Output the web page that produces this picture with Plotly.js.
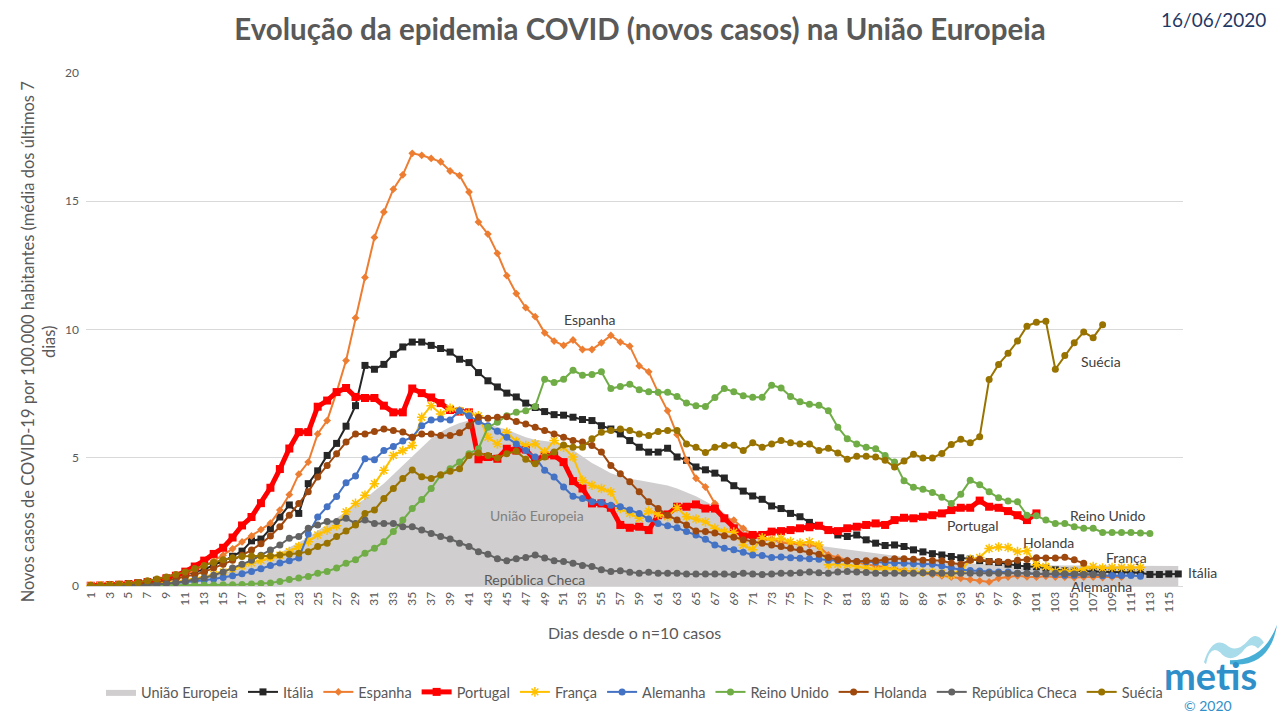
<!DOCTYPE html>
<html>
<head>
<meta charset="utf-8">
<script src="https://cdn.plot.ly/plotly-3.0.1.min.js"></script>
<style>html,body{margin:0;padding:0;background:#fff;}#chart{width:1280px;height:720px;}</style>
</head>
<body>
<div id="chart"></div>
<script>
// Days since n=10 cases (category axis 1..116)
const xTickVals = [];
for (let d = 1; d <= 115; d += 2) xTickVals.push(d);

const uniaoEuropeia = [0.01,0.02,0.03,0.04,0.06,0.08,0.1,0.13,0.16,0.2,
0.25,0.3,0.36,0.43,0.5,0.6,0.72,0.85,1.0,1.15,
1.3,1.5,1.7,1.9,2.15,2.4,2.65,2.9,3.15,3.4,
3.7,4.0,4.35,4.7,5.05,5.4,5.75,6.0,6.2,6.35,
6.45,6.4,6.3,6.2,6.1,5.95,5.8,5.7,5.65,5.6,
5.45,5.3,5.05,4.8,4.6,4.4,4.28,4.18,4.12,4.06,
4.0,3.92,3.8,3.65,3.5,3.3,3.1,2.85,2.55,2.3,
2.1,1.95,1.85,1.78,1.72,1.67,1.62,1.57,1.52,1.47,
1.42,1.37,1.32,1.27,1.22,1.17,1.12,1.07,1.02,0.98,
0.95,0.92,0.9,0.88,0.86,0.84,0.83,0.82,0.82,0.81,
0.8,0.8,0.8,0.8,0.8,0.8,0.8,0.8,0.8,0.79,
0.79,0.79,0.79,0.78,0.78,0.78];

const italia = [0.01,0.02,0.04,0.06,0.09,0.12,0.16,0.22,0.3,0.38,
0.45,0.56,0.63,0.83,0.96,1.16,1.36,1.76,1.83,2.23,
2.69,3.16,2.83,3.99,4.49,5.09,5.56,6.23,7.03,8.6,
8.45,8.64,9.03,9.32,9.51,9.51,9.38,9.26,9.12,8.84,
8.71,8.32,8.0,7.76,7.52,7.37,7.13,6.96,6.8,6.68,
6.66,6.58,6.49,6.45,6.25,6.12,5.93,5.67,5.41,5.22,
5.22,5.37,5.03,4.9,4.64,4.53,4.4,4.21,3.91,3.7,
3.51,3.38,3.12,3.02,2.83,2.7,2.48,2.35,2.18,1.99,
1.93,1.99,1.8,1.67,1.58,1.6,1.54,1.41,1.33,1.26,
1.21,1.15,1.1,1.05,0.99,0.95,0.92,0.85,0.8,0.76,
0.75,0.7,0.63,0.59,0.58,0.57,0.56,0.54,0.54,0.53,
0.53,0.52,0.45,0.45,0.47,0.47];

const espanha = [0.01,0.02,0.03,0.05,0.07,0.1,0.13,0.18,0.25,0.33,
0.45,0.6,0.78,0.98,1.2,1.45,1.72,1.95,2.2,2.45,
2.96,3.56,4.36,4.83,5.93,6.45,7.56,8.79,10.45,12.03,
13.59,14.58,15.47,16.03,16.87,16.79,16.67,16.54,16.18,16.0,
15.36,14.19,13.72,12.97,12.1,11.4,10.85,10.5,9.87,9.55,
9.38,9.59,9.22,9.22,9.48,9.77,9.51,9.35,8.58,8.35,
7.55,6.83,5.9,4.9,4.2,3.86,3.22,2.64,2.57,2.25,
1.99,1.77,1.83,1.7,1.66,1.63,1.6,1.54,1.21,1.11,
1.0,0.92,0.85,0.78,0.72,0.66,0.6,0.55,0.5,0.45,
0.4,0.35,0.3,0.25,0.2,0.16,0.3,0.35,0.4,0.36,
0.35,0.38,0.35,0.35,0.33,0.35,0.35,0.33,0.35,0.35];

const portugal = [0.01,0.02,0.03,0.05,0.07,0.1,0.15,0.2,0.3,0.4,
0.56,0.76,0.99,1.25,1.49,1.89,2.36,2.69,3.23,3.83,
4.56,5.36,6.0,6.0,6.99,7.23,7.56,7.72,7.37,7.33,
7.33,7.03,6.77,6.77,7.7,7.52,7.35,7.13,6.86,6.8,
6.77,4.94,5.03,4.96,5.35,5.28,5.32,4.9,5.09,5.09,
4.83,4.09,3.8,3.22,3.22,3.05,2.38,2.27,2.31,2.18,
2.76,2.79,3.09,3.09,3.18,3.02,3.02,2.64,2.25,1.93,
1.99,1.99,2.12,2.14,2.18,2.25,2.29,2.35,2.18,2.14,
2.25,2.31,2.38,2.44,2.38,2.57,2.66,2.64,2.7,2.76,
2.83,2.96,3.05,3.05,3.33,3.09,3.05,2.92,2.76,2.57,
2.83];

const franca = [0,0.01,0.02,0.03,0.04,0.05,0.07,0.1,0.13,0.17,
0.22,0.28,0.35,0.45,0.55,0.65,0.78,0.9,1.0,1.1,
1.2,1.34,1.54,1.73,1.99,2.18,2.35,2.89,3.22,3.54,
3.99,4.51,5.09,5.28,5.48,6.58,7.03,6.71,6.93,6.83,
6.74,6.64,5.8,5.54,5.99,5.63,5.48,5.54,5.22,5.67,
5.41,5.03,4.12,3.93,3.8,3.67,3.02,2.83,2.64,2.92,
2.79,2.7,3.05,2.7,2.61,2.5,2.25,2.12,2.1,1.6,
1.41,1.88,1.8,1.86,1.73,1.67,1.73,1.6,0.83,0.85,
0.83,0.76,0.7,0.63,0.7,0.63,0.57,0.57,0.54,0.54,
0.5,0.44,0.57,1.04,1.11,1.46,1.52,1.5,1.34,1.37,
0.83,0.76,0.57,0.57,0.59,0.67,0.76,0.7,0.72,0.72,
0.72,0.72];

const alemanha = [0,0.01,0.01,0.02,0.03,0.04,0.05,0.07,0.09,0.12,
0.15,0.18,0.22,0.27,0.33,0.4,0.48,0.57,0.67,0.8,
0.9,0.98,1.09,2.03,2.69,3.09,3.49,4.03,4.29,4.96,
4.92,5.28,5.44,5.65,5.8,6.25,6.47,6.51,6.47,6.83,
6.64,6.41,6.25,6.03,5.8,5.54,5.28,5.03,4.51,4.25,
3.86,3.5,3.41,3.28,3.26,3.15,3.09,2.96,2.83,2.61,
2.44,2.35,2.27,2.12,1.99,1.82,1.6,1.47,1.41,1.32,
1.21,1.19,1.11,1.13,1.1,1.08,1.06,1.04,1.0,0.98,
0.97,0.96,0.95,0.93,0.92,0.9,0.89,0.87,0.86,0.85,
0.78,0.7,0.63,0.6,0.58,0.55,0.55,0.55,0.5,0.5,
0.47,0.47,0.45,0.42,0.42,0.44,0.46,0.4,0.41,0.41,
0.41,0.38];

const reinoUnido = [0,0,0.01,0.01,0.01,0.02,0.02,0.02,0.03,0.03,
0.03,0.04,0.04,0.04,0.05,0.05,0.06,0.08,0.1,0.12,
0.18,0.25,0.31,0.37,0.5,0.57,0.7,0.89,1.02,1.28,
1.47,1.73,2.12,2.57,3.02,3.37,3.8,4.32,4.57,4.83,
5.16,5.35,6.19,6.38,6.64,6.77,6.83,7.0,8.06,7.93,
8.06,8.41,8.22,8.25,8.35,7.7,7.78,7.87,7.65,7.57,
7.55,7.55,7.39,7.13,7.03,7.0,7.35,7.7,7.57,7.42,
7.36,7.36,7.83,7.72,7.39,7.18,7.09,7.05,6.83,6.19,
5.74,5.54,5.41,5.35,5.09,4.83,4.1,3.85,3.77,3.65,
3.46,3.22,3.58,4.12,3.95,3.67,3.44,3.31,3.28,2.76,
2.74,2.57,2.44,2.44,2.31,2.25,2.25,2.09,2.09,2.09,
2.09,2.07,2.05];

const holanda = [0,0.01,0.02,0.03,0.05,0.07,0.1,0.15,0.2,0.28,
0.35,0.45,0.55,0.7,0.85,1.0,1.2,1.4,1.65,1.95,
2.31,2.76,3.22,3.67,4.25,4.7,5.16,5.61,5.93,5.93,
6.02,6.12,6.06,6.0,5.8,5.93,5.93,5.87,5.87,5.97,
6.25,6.58,6.54,6.58,6.6,6.41,6.32,6.19,6.06,5.93,
5.8,5.67,5.61,5.48,5.22,4.7,4.38,4.06,3.67,3.28,
3.02,2.76,2.57,2.38,2.14,2.12,2.07,1.96,1.9,1.8,
1.73,1.67,1.6,1.54,1.47,1.41,1.32,1.24,1.11,1.02,
0.98,0.96,0.98,0.98,1.02,1.06,1.06,1.04,1.0,0.99,
0.98,0.9,0.85,1.0,1.04,0.96,0.96,0.93,1.0,1.03,
1.1,1.09,1.09,1.12,1.02,0.89];

const republicaCheca = [0.01,0.01,0.01,0.01,0.02,0.03,0.04,0.06,0.09,0.13,
0.18,0.25,0.32,0.42,0.55,0.7,0.85,1.0,1.2,1.4,
1.6,1.86,1.93,2.25,2.38,2.51,2.51,2.64,2.44,2.57,
2.44,2.44,2.44,2.31,2.31,2.18,2.05,1.93,1.83,1.67,
1.54,1.34,1.24,1.06,0.98,1.06,1.11,1.21,1.09,0.98,
0.96,0.89,0.8,0.76,0.63,0.57,0.59,0.54,0.5,0.54,
0.5,0.5,0.5,0.47,0.47,0.47,0.47,0.47,0.45,0.5,
0.47,0.45,0.47,0.5,0.5,0.52,0.55,0.52,0.5,0.55,
0.57,0.55,0.53,0.5,0.5,0.5,0.5,0.5,0.52,0.5,
0.5,0.5,0.5,0.5,0.5,0.5,0.5,0.5,0.5,0.5,
0.48,0.48,0.5,0.48,0.47,0.45,0.45,0.45];

const suecia = [0.02,0.03,0.05,0.07,0.1,0.14,0.2,0.27,0.35,0.45,
0.55,0.68,0.8,0.92,1.02,1.1,1.15,1.17,1.17,1.17,
1.21,1.24,1.28,1.34,1.54,1.67,1.93,2.14,2.38,2.83,
2.96,3.41,3.8,4.19,4.52,4.26,4.19,4.34,4.47,4.57,
5.09,5.19,5.09,4.99,5.16,5.25,4.94,4.77,5.03,5.22,
5.5,5.41,5.41,5.74,5.99,6.06,6.12,6.06,5.93,5.87,
6.02,6.06,6.06,5.54,5.41,5.2,5.41,5.48,5.49,5.28,
5.58,5.41,5.54,5.67,5.58,5.54,5.54,5.28,5.37,5.19,
4.94,5.06,5.06,5.03,4.9,4.64,4.87,5.14,4.99,4.99,
5.17,5.52,5.72,5.58,5.82,8.05,8.64,9.07,9.55,10.13,
10.28,10.32,8.45,8.99,9.48,9.9,9.68,10.19];

const days = arr => arr.map((_, i) => i + 1);
const FONT = 'Lato, "Open Sans", sans-serif';

function lineTrace(name, vals, color, symbol, msize, lw, extra) {
  const t = {
    type: 'scatter', mode: 'lines+markers', name: name,
    x: days(vals), y: vals,
    line: {color: color, width: lw},
    marker: {color: color, symbol: symbol, size: msize}
  };
  if (extra) Object.assign(t.marker, extra);
  return t;
}

const traces = [
  {type: 'scatter', mode: 'lines', name: 'União Europeia', x: days(uniaoEuropeia), y: uniaoEuropeia,
   fill: 'tozeroy', fillcolor: '#D0CECE', line: {color: 'rgba(0,0,0,0)', width: 0}},
  lineTrace('Itália', italia, '#262626', 'square', 7, 2),
  lineTrace('Espanha', espanha, '#ED7D31', 'diamond', 6, 2),
  lineTrace('Portugal', portugal, '#FF0000', 'square', 8, 5),
  lineTrace('França', franca, '#FFC000', 'asterisk-open', 8, 2, {line: {color: '#FFC000', width: 1.5}}),
  lineTrace('Alemanha', alemanha, '#4472C4', 'circle', 7, 2),
  lineTrace('Reino Unido', reinoUnido, '#70AD47', 'circle', 7, 2),
  lineTrace('Holanda', holanda, '#9E480E', 'circle', 7, 2),
  lineTrace('República Checa', republicaCheca, '#636363', 'circle', 7, 2),
  lineTrace('Suécia', suecia, '#997300', 'circle', 7, 2)
];

// pixel -> paper helpers for decorations
const PL = 86, PR = 1183, PT = 73, PB = 591;
const px = x => (x - PL) / (PR - PL);
const py = y => (PB - y) / (PB - PT);
function P(x, y) { return px(x).toFixed(4) + ',' + py(y).toFixed(4); }

function lbl(text, x, y, color, size) {
  return {text: text, xref: 'paper', yref: 'paper', x: px(x), y: py(y), showarrow: false,
          xanchor: 'center', yanchor: 'middle', font: {family: FONT, size: size || 14, color: color || '#404040'}};
}

const annotations = [
  lbl('Espanha', 589, 322),
  lbl('Suécia', 1101, 364),
  lbl('Reino Unido', 1108, 520),
  lbl('Portugal', 972, 530),
  lbl('Holanda', 1048, 547),
  lbl('França', 1126, 562),
  lbl('Itália', 1202, 577),
  lbl('Alemanha', 1101, 592),
  lbl('União Europeia', 537, 520, '#808080'),
  lbl('República Checa', 534, 584, '#595959'),
  lbl('16/06/2020', 1213, 19, '#1F3864', 19),
  {text: 'Novos casos de COVID-19 por 100.000 habitantes (média dos últimos 7<br>dias)', textangle: -90,
   xref: 'paper', yref: 'paper', x: px(38), y: py(345), showarrow: false, xanchor: 'center', yanchor: 'middle',
   align: 'center', font: {family: FONT, size: 16.5, color: '#595959'}},
  lbl('Dias desde o n=10 casos', 634, 638, '#595959', 16),
  {text: '<b>metis</b>', xref: 'paper', yref: 'paper', x: px(1211), y: py(681), showarrow: false,
   xanchor: 'center', yanchor: 'middle', font: {family: FONT, size: 38, color: '#2F8FC9'}},
  lbl('© 2020', 1208, 712, '#2F8FC9', 14)
];

const shapes = [
  {type: 'path', xref: 'paper', yref: 'paper', layer: 'above',
   path: 'M' + P(1204, 668) + ' Q' + P(1212, 642) + ' ' + P(1226, 650) + ' Q' + P(1236, 660) + ' ' + P(1248, 646) +
         ' Q' + P(1256, 636) + ' ' + P(1264, 648) + ' L' + P(1258, 654) + ' Q' + P(1250, 646) + ' ' + P(1242, 658) +
         ' Q' + P(1230, 670) + ' ' + P(1220, 658) + ' Q' + P(1210, 650) + ' ' + P(1206, 670) + ' Z',
   fillcolor: '#A8DCEA', line: {width: 0}},
  {type: 'path', xref: 'paper', yref: 'paper', layer: 'above',
   path: 'M' + P(1230, 666) + ' Q' + P(1264, 666) + ' ' + P(1277, 630) + ' Q' + P(1270, 674) + ' ' + P(1230, 670) + ' Z',
   fillcolor: '#47AFD6', line: {width: 0}}
];

const layout = {
  width: 1280, height: 720,
  paper_bgcolor: '#ffffff', plot_bgcolor: '#ffffff',
  margin: {l: PL, r: 1280 - PR, t: PT, b: 720 - PB},
  font: {family: FONT, color: '#595959'},
  title: {text: '<b>Evolução da epidemia COVID (novos casos) na União Europeia</b>',
          x: 0.5, xref: 'container', xanchor: 'center', y: 1 - 30 / 720, yref: 'container', yanchor: 'middle',
          font: {family: FONT, size: 29.5, color: '#595959'}},
  xaxis: {range: [0.5, 116.5], tickmode: 'array', tickvals: xTickVals, ticktext: xTickVals.map(String),
          tickangle: -90, tickfont: {family: FONT, size: 12, color: '#595959'},
          showgrid: false, zeroline: false, showline: true, linecolor: '#D9D9D9', linewidth: 1, ticks: ''},
  yaxis: {range: [0, 20], tickvals: [0, 5, 10, 15, 20], tickfont: {family: FONT, size: 12, color: '#595959'},
          showgrid: true, gridcolor: '#D9D9D9', gridwidth: 1, zeroline: false, showline: false, ticks: '', ticklabelstandoff: 6},
  showlegend: true,
  legend: {orientation: 'h', x: 0.5, xanchor: 'center', y: py(698), yanchor: 'middle',
           font: {family: FONT, size: 14.5, color: '#595959'}, bgcolor: 'rgba(0,0,0,0)', itemwidth: 30},
  annotations: annotations,
  shapes: shapes
};

Plotly.newPlot('chart', traces, layout, {displayModeBar: false, staticPlot: true});
</script>
</body>
</html>
